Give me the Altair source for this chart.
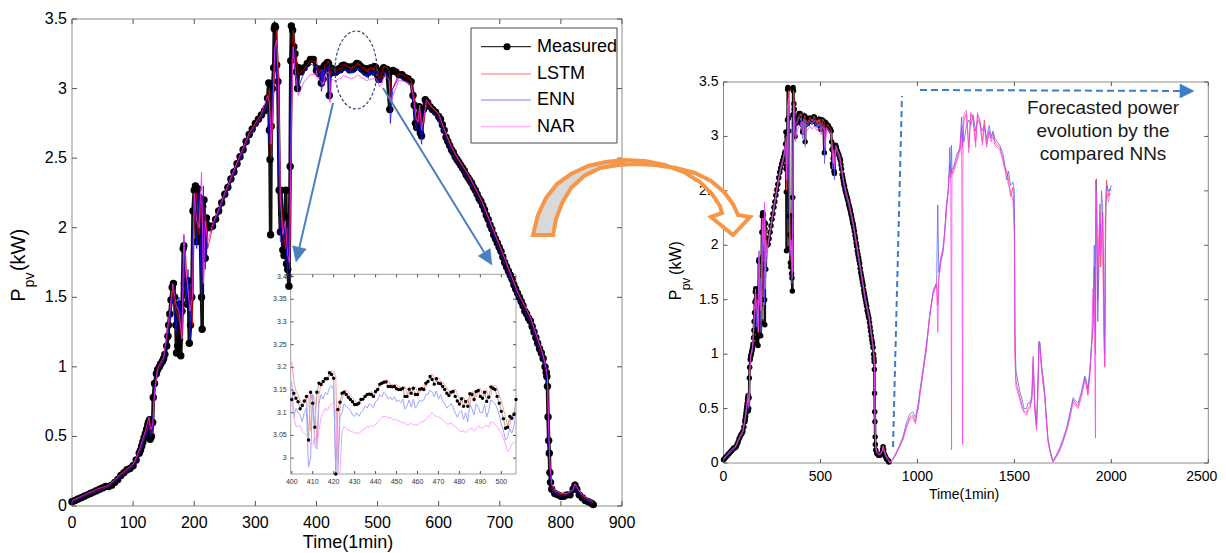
import math
import altair as alt
import pandas as pd

# ------------------------------------------------------------------ data
# Left panel: measured PV power (kW) vs time (min), part before the zoomed window
meas_t1 = [0,5,10,15,20,25,30,35,40,45,50,55,60,65,70,75,80,85,90,95,100,105,110,112,114,116,118,120,122,124,125,
           127,128,130,132,133,135,138,140,143,145,148,150,152,155,157,158,160,162,164,166,168,170,171,173,175,176,178,180,
           182,183,184,186,188,190,192,194,196,198,200,202,204,206,208,210,212,213,214,216,218,220,222,225,230,
           235,240,245,250,255,260,265,270,275,280,285,290,295,300,305,310,315,318,320,322,323,324,325,326,328,330,
           331,332,333,335,337,339,341,342,343,345,347,348,350,351,353,355,357,358,359,361,363,365,367,369,371,375,380,385,390,395]
meas_p1 = [0.03,0.04,0.05,0.06,0.07,0.08,0.09,0.10,0.11,0.12,0.13,0.14,0.14,0.15,0.17,0.19,0.22,0.24,0.26,0.27,0.29,
           0.33,0.38,0.40,0.43,0.46,0.49,0.52,0.55,0.58,0.60,
           0.62,0.48,0.50,0.60,0.78,0.88,0.95,0.98,1.00,1.02,1.04,1.06,1.09,1.15,1.22,1.30,1.38,1.48,1.57,1.60,1.50,1.30,1.10,1.15,1.45,1.20,1.08,1.40,
           1.85,1.87,1.60,1.52,1.45,1.62,1.17,1.30,1.50,2.12,2.27,
           2.30,1.90,2.28,2.22,1.95,1.50,1.27,2.15,2.20,1.78,2.07,2.02,2.00,2.01,
           2.06,2.12,2.18,2.24,2.29,2.35,2.40,2.46,2.51,2.56,2.62,2.67,2.71,2.75,2.78,2.81,2.84,2.86,2.93,3.04,2.70,2.49,1.95,2.73,3.00,3.15,
           3.43,3.45,3.44,3.17,3.05,2.27,1.97,2.27,2.10,1.84,1.80,2.08,2.27,1.74,1.70,1.58,2.44,3.20,3.45,3.42,3.30,3.25,3.12,3.00,3.15,3.12,3.15,3.18,3.21,3.21]

# zoomed window (minutes 400..507), one value per minute
zoom_t = list(range(400, 508))
zoom_meas = [3.129,3.143,3.132,3.124,3.109,3.116,3.126,3.136,3.040,3.145,
             3.121,3.068,3.145,3.165,3.162,3.169,3.175,3.175,3.188,3.184,
             3.176,2.950,3.107,3.123,3.143,3.145,3.140,3.134,3.129,3.124,
             3.118,3.118,3.121,3.129,3.130,3.136,3.140,3.141,3.140,3.136,
             3.147,3.151,3.163,3.165,3.167,3.168,3.158,3.158,3.157,3.158,
             3.153,3.151,3.151,3.154,3.136,3.136,3.152,3.143,3.154,3.140,
             3.140,3.152,3.153,3.151,3.165,3.169,3.180,3.173,3.163,3.175,
             3.165,3.164,3.158,3.151,3.143,3.138,3.145,3.147,3.136,3.126,
             3.119,3.131,3.114,3.125,3.114,3.142,3.140,3.129,3.147,3.149,
             3.136,3.132,3.145,3.125,3.134,3.157,3.154,3.151,3.136,3.121,
             3.103,3.087,3.066,3.068,3.092,3.088,3.096,3.129]
zoom_lstm = [3.213,3.170,3.148,3.140,3.128,3.115,3.120,3.130,3.140,3.060,
             3.140,3.130,3.030,3.140,3.165,3.165,3.172,3.178,3.180,3.192,
             3.190,3.180,2.985,3.110,3.128,3.148,3.150,3.145,3.138,3.133,
             3.128,3.122,3.122,3.125,3.133,3.135,3.140,3.145,3.146,3.145,
             3.140,3.150,3.156,3.167,3.170,3.172,3.172,3.163,3.162,3.161,
             3.162,3.158,3.156,3.155,3.158,3.142,3.140,3.155,3.148,3.158,
             3.145,3.144,3.156,3.158,3.156,3.168,3.173,3.185,3.178,3.168,
             3.178,3.170,3.168,3.162,3.155,3.148,3.143,3.150,3.152,3.142,
             3.132,3.124,3.135,3.120,3.130,3.120,3.146,3.145,3.134,3.150,
             3.154,3.142,3.137,3.150,3.130,3.138,3.160,3.160,3.156,3.140,
             3.126,3.108,3.090,3.070,3.072,3.095,3.092,3.100]
zoom_enn = [3.170,3.090,3.110,3.100,3.095,3.080,3.100,3.110,2.980,3.000,
            3.140,3.030,3.020,3.120,3.140,3.130,3.145,3.140,3.155,3.160,
            3.150,2.930,2.920,3.090,3.100,3.120,3.115,3.110,3.105,3.095,
            3.092,3.100,3.092,3.100,3.105,3.115,3.110,3.120,3.115,3.112,
            3.125,3.128,3.140,3.135,3.145,3.140,3.130,3.135,3.128,3.135,
            3.125,3.128,3.122,3.130,3.108,3.115,3.128,3.112,3.130,3.110,
            3.118,3.128,3.125,3.128,3.140,3.140,3.150,3.145,3.135,3.148,
            3.130,3.140,3.125,3.120,3.110,3.115,3.120,3.112,3.100,3.090,
            3.100,3.105,3.085,3.100,3.080,3.120,3.108,3.095,3.120,3.112,
            3.100,3.100,3.118,3.090,3.105,3.128,3.125,3.120,3.110,3.095,
            3.075,3.060,3.040,3.045,3.065,3.055,3.070,3.100]
zoom_nar = [3.130,3.090,3.070,3.070,3.072,3.060,3.055,3.050,3.045,3.030,
            3.030,3.050,3.030,3.060,3.090,3.100,3.110,3.105,3.115,3.120,
            3.120,3.100,2.900,2.950,3.060,3.070,3.065,3.062,3.060,3.058,
            3.055,3.056,3.054,3.058,3.062,3.065,3.070,3.068,3.072,3.070,
            3.075,3.078,3.085,3.090,3.092,3.092,3.088,3.090,3.085,3.084,
            3.085,3.082,3.080,3.078,3.078,3.072,3.075,3.076,3.072,3.074,
            3.072,3.078,3.080,3.082,3.085,3.090,3.095,3.100,3.095,3.092,
            3.090,3.088,3.085,3.080,3.075,3.075,3.078,3.072,3.070,3.066,
            3.060,3.058,3.060,3.056,3.060,3.064,3.066,3.060,3.066,3.070,
            3.068,3.065,3.070,3.072,3.068,3.080,3.078,3.075,3.070,3.062,
            3.055,3.045,3.030,3.015,3.020,3.030,3.035,3.035]

# measured, after the zoomed window
meas_t3 = [510,515,520,521,525,530,535,540,545,550,555,558,560,562,564,566,568,570,572,575,
           578,582,586,590,595,600,603,606,609,612,615,618,621,624,627,630,633,636,639,642,645,648,651,654,657,
           660,663,666,669,672,675,678,681,684,687,690,693,696,699,702,705,708,711,714,717,720,723,726,729,732,
           735,738,741,744,747,750,753,756,759,762,765,768,771,774,776,777,778,779,780,781,782,783,785,790,795,800,805,
           810,815,820,823,826,830,835,840,845,850,853]
meas_p3 = [3.15,3.14,2.85,3.12,3.13,3.12,3.10,3.10,3.08,3.07,3.05,2.95,2.88,2.75,2.72,2.80,2.87,2.68,2.66,2.85,
           2.92,2.90,2.87,2.85,2.83,2.80,2.78,2.74,2.70,2.65,2.62,2.59,2.56,2.54,2.51,2.49,2.47,2.45,2.43,2.41,2.38,2.36,2.34,2.32,2.29,
           2.27,2.24,2.21,2.19,2.16,2.13,2.09,2.06,2.02,1.99,1.95,1.92,1.89,1.86,1.83,1.79,1.75,1.72,1.69,1.66,1.63,1.59,1.56,1.53,1.50,
           1.47,1.44,1.40,1.38,1.35,1.33,1.29,1.25,1.21,1.17,1.13,1.10,1.06,1.00,0.96,0.93,0.86,0.64,0.47,0.38,0.24,0.17,0.12,0.09,0.08,0.07,0.07,
           0.08,0.08,0.12,0.15,0.12,0.08,0.06,0.04,0.03,0.02,0.01]

# network outputs outside the zoomed window (sampled)
fc_ta = [0,20,40,60,80,100,110,120,126,129,132,135,140,150,160,165,170,175,180,183,
         186,190,193,197,200,204,208,212,215,218,222,230,250,270,290,310,320,323,326,329,
         332,335,338,341,345,349,353,356,359,362,366,370,380,390,399]
lstm_a = [0.03,0.07,0.11,0.14,0.22,0.29,0.38,0.51,0.60,0.55,0.52,0.80,0.97,1.05,1.35,1.55,1.40,1.35,1.20,1.60,
          1.80,1.50,1.55,1.30,2.10,2.25,1.95,2.20,1.60,2.15,1.85,2.00,2.23,2.45,2.66,2.80,2.90,3.00,2.50,2.80,
          3.20,3.42,3.10,2.30,2.00,1.85,2.00,1.70,2.60,3.42,3.25,3.10,3.14,3.20,3.19]
enn_a = [0.03,0.07,0.10,0.14,0.21,0.28,0.37,0.50,0.58,0.50,0.56,0.85,0.96,1.04,1.33,1.50,1.25,1.50,1.30,1.95,
         1.45,1.70,1.20,1.85,2.20,1.85,2.25,1.45,2.30,1.70,2.00,2.00,2.22,2.44,2.65,2.79,2.90,2.60,2.75,3.05,
         3.30,3.10,2.50,1.90,1.90,2.00,1.65,2.10,3.20,3.30,3.12,3.00,3.12,3.18,3.15]
nar_a = [0.04,0.08,0.12,0.15,0.23,0.30,0.40,0.54,0.64,0.55,0.58,0.82,0.99,1.07,1.40,1.60,1.45,1.40,1.20,1.95,
         1.70,1.55,1.40,1.50,2.25,2.05,2.00,2.40,1.60,2.05,1.90,2.02,2.25,2.47,2.68,2.82,2.95,2.90,2.60,2.90,
         3.30,3.35,3.00,2.20,1.95,2.05,1.80,1.75,2.80,3.30,3.10,2.95,3.05,3.10,3.10]
fc_tc = [510,515,519,521,525,535,545,555,560,563,566,569,572,576,580,590,600,610,620,630,
         650,670,690,710,730,750,770,776,778,780,782,785,790,800,810,820,823,827,835,845,853]
lstm_c = [3.16,3.15,3.13,3.00,3.00,3.11,3.09,3.06,2.95,2.80,2.75,2.85,2.75,2.75,2.90,2.86,2.81,2.69,2.58,2.50,
          2.36,2.19,1.97,1.75,1.52,1.35,1.09,0.98,0.90,0.60,0.30,0.15,0.10,0.08,0.08,0.11,0.15,0.13,0.07,0.04,0.02]
enn_c = [3.12,3.10,3.08,2.75,3.00,3.08,3.05,3.02,2.85,2.70,2.78,2.80,2.60,2.82,2.88,2.83,2.78,2.66,2.55,2.47,
         2.33,2.16,1.94,1.72,1.49,1.32,1.06,0.95,0.84,0.50,0.25,0.12,0.09,0.07,0.08,0.11,0.14,0.11,0.06,0.03,0.01]
nar_c = [3.09,3.08,3.06,2.90,2.95,3.06,3.05,3.03,2.90,2.78,2.76,2.88,2.70,2.80,2.92,2.86,2.82,2.70,2.59,2.51,
         2.37,2.20,1.98,1.76,1.53,1.36,1.10,0.99,0.92,0.55,0.30,0.16,0.11,0.09,0.09,0.12,0.16,0.13,0.08,0.05,0.03]

# right panel: forecast horizon (minutes 858..2000)
fut_t = [858,880,900,925,945,961,975,990,996,1005,1013,1030,1047,1064,1081,1099,1105,1110,1120,1132,
         1140,1150,1160,1167,1172,1176,1178,1184,1195,1205,1215,1219,1228,1233,1235,1240,1253,1265,1275,1287,
         1300,1310,1322,1335,1345,1357,1370,1380,1390,1400,1412,1425,1440,1450,1460,1470,1480,1493,1500,1503,
         1508,1515,1528,1540,1550,1563,1570,1580,1590,1597,1605,1614,1620,1627,1633,1640,1648,1657,1665,1673,
         1685,1699,1715,1734,1750,1769,1785,1803,1815,1828,1845,1863,1872,1879,1890,1898,1905,1912,1918,1920,
         1923,1930,1941,1945,1949,1955,1960,1966,1970,1975,1985,1992,2000]
fut_lstm = [0.0,0.05,0.12,0.22,0.34,0.42,0.44,0.38,0.45,0.52,0.64,0.85,1.07,1.37,1.56,1.65,1.45,1.7,1.85,1.95,
            2.1,2.35,2.55,2.75,2.62,2.7,2.66,2.69,2.75,2.8,2.88,2.87,3.1,2.9,3.0,3.15,3.21,2.9,3.2,3.18,
            2.95,3.2,3.15,2.95,3.15,2.93,3.05,2.98,3.03,2.95,2.92,2.9,2.8,2.72,2.69,2.6,2.45,2.53,2.2,1.04,
            0.76,0.7,0.61,0.52,0.48,0.46,0.5,0.52,0.6,0.98,0.5,0.33,0.6,1.11,1.05,0.88,0.75,0.61,0.4,0.21,
            0.1,0.01,0.06,0.12,0.2,0.3,0.42,0.58,0.55,0.52,0.62,0.79,0.72,0.64,0.85,1.07,1.2,1.8,1.0,2.2,
            2.61,1.5,2.38,1.8,2.05,2.3,1.5,0.88,2.0,2.6,2.45,2.52,2.5]
fut_enn = [0.0,0.06,0.13,0.24,0.38,0.45,0.47,0.42,0.47,0.55,0.67,0.88,1.1,1.35,1.58,1.66,2.37,1.75,1.88,1.97,
           2.12,2.38,2.5,2.9,2.66,2.92,2.7,2.7,2.78,2.85,2.86,2.9,3.18,2.95,3.05,2.95,3.1,3.15,3.1,3.2,
           3.05,3.15,3.12,3.05,3.1,2.98,3.1,3.0,3.05,2.98,2.95,2.92,2.85,2.75,2.6,2.68,2.55,2.58,2.5,1.2,
           0.85,0.78,0.66,0.58,0.5,0.5,0.55,0.55,0.62,0.9,0.55,0.36,0.65,1.12,1.1,0.9,0.8,0.64,0.42,0.23,
           0.11,0.02,0.07,0.14,0.22,0.32,0.45,0.6,0.57,0.55,0.65,0.8,0.75,0.68,0.88,1.1,1.25,2.0,1.2,2.6,
           2.45,1.3,2.2,2.1,2.5,2.35,1.8,1.0,2.3,2.55,2.5,2.5,2.55]
fut_nar = [0.0,0.05,0.12,0.21,0.33,0.4,0.42,0.36,0.44,0.5,0.62,0.84,1.05,1.38,1.55,1.64,1.2,1.68,1.83,1.94,
           2.08,2.33,2.52,2.7,2.6,0.12,2.68,2.66,2.72,2.78,2.84,2.85,3.05,0.17,3.1,3.2,3.24,2.85,3.22,3.15,
           2.9,3.22,3.12,2.92,3.1,2.9,3.05,2.95,3.0,2.92,2.9,2.88,2.78,2.7,2.65,2.55,2.5,2.4,2.1,1.0,
           0.7,0.66,0.58,0.5,0.46,0.44,0.48,0.5,0.58,0.95,0.48,0.3,0.55,1.08,1.03,0.86,0.72,0.6,0.38,0.2,
           0.09,0.01,0.05,0.11,0.19,0.29,0.4,0.56,0.53,0.5,0.6,0.76,0.7,0.62,0.82,1.05,1.6,1.5,0.23,2.0,
           2.5,1.8,2.3,1.9,2.0,2.25,1.2,0.9,2.4,2.5,2.4,2.48,2.47]

series_names = ["Measured", "LSTM", "ENN", "NAR"]
left_xticks = [0, 100, 200, 300, 400, 500, 600, 700, 800, 900]
left_yticks = [0, 0.5, 1, 1.5, 2, 2.5, 3, 3.5]
zoom_xticks = [400, 410, 420, 430, 440, 450, 460, 470, 480, 490, 500]
zoom_yticks = [3, 3.05, 3.1, 3.15, 3.2, 3.25, 3.3, 3.35, 3.4]
right_xticks = [0, 500, 1000, 1500, 2000, 2500]
right_yticks = [0, 0.5, 1, 1.5, 2, 2.5, 3, 3.5]
note_lines = ["Forecasted power", "evolution by the", "compared NNs"]

# ------------------------------------------------------------------ tables
meas = pd.DataFrame({"t": meas_t1 + zoom_t + meas_t3, "p": meas_p1 + zoom_meas + meas_p3})
fore = pd.DataFrame({"t": fc_ta + zoom_t + fc_tc,
                     "LSTM": lstm_a + zoom_lstm + lstm_c,
                     "ENN": enn_a + zoom_enn + enn_c,
                     "NAR": nar_a + zoom_nar + nar_c})
fut = pd.DataFrame({"t": fut_t, "LSTM": fut_lstm, "ENN": fut_enn, "NAR": fut_nar})
fore_all = pd.concat([fore, fut], ignore_index=True)
zoom = pd.DataFrame({"t": zoom_t, "p": zoom_meas, "LSTM": zoom_lstm, "ENN": zoom_enn, "NAR": zoom_nar})
ONE = pd.DataFrame({"a": [0]})

# ------------------------------------------------------------------ layout (view pixels)
W, H = 1210, 545
FONT = "Liberation Sans"
LX, LY = [64, 614], [498, 11]
IX, IY = [282.7, 508], [466, 266.3]
RX, RY = [715.5, 1200.3], [455, 74]


def sc(domain, rng, clamp=False):
    return alt.Scale(domain=domain, range=rng, nice=False, zero=False, clamp=clamp)


xs_l, ys_l = sc([0, 900], LX), sc([0, 3.5], LY)
xs_i, ys_i = sc([399.5, 507], IX, True), sc([2.965, 3.405], IY, True)
xs_r, ys_r = sc([0, 2500], RX), sc([0, 3.5], RY)


def lines(df, col, xs, ys, color, width=1.0, opacity=1.0):
    return alt.Chart(df).mark_line(color=color, strokeWidth=width, opacity=opacity).encode(
        x=alt.X("t:Q", scale=xs, axis=None), y=alt.Y(f"{col}:Q", scale=ys, axis=None))


def dots(df, col, xs, ys, size):
    return alt.Chart(df).mark_circle(color="#000", size=size, opacity=1).encode(
        x=alt.X("t:Q", scale=xs, axis=None), y=alt.Y(f"{col}:Q", scale=ys, axis=None))


def frame(xs, ys, xr, yr, xt, yt, tl, color, fs, xlab_dy, ylab_dx, lab_color="#000", fill=None,
          last_right=False):
    rect = alt.Chart(ONE).mark_rect(fill=fill or "#ffffff", fillOpacity=1 if fill else 0,
                                    stroke=color, strokeWidth=1).encode(
        x=alt.value(xr[0]), x2=alt.value(xr[1]), y=alt.value(yr[1]), y2=alt.value(yr[0]))
    dx = pd.DataFrame({"v": xt})
    dy = pd.DataFrame({"v": yt})
    tc = "#555555"
    out = [rect]
    for y0, y1 in [(yr[0], yr[0] - tl), (yr[1], yr[1] + tl)]:
        out.append(alt.Chart(dx).mark_rule(color=tc, strokeWidth=1).encode(
            x=alt.X("v:Q", scale=xs, axis=None), y=alt.value(y0), y2=alt.value(y1)))
    for x0, x1 in [(xr[0], xr[0] + tl), (xr[1], xr[1] - tl)]:
        out.append(alt.Chart(dy).mark_rule(color=tc, strokeWidth=1).encode(
            y=alt.Y("v:Q", scale=ys, axis=None), x=alt.value(x0), x2=alt.value(x1)))
    # tick labels
    dx_c = dx.iloc[:-1] if last_right else dx
    out.append(alt.Chart(dx_c).mark_text(font=FONT, fontSize=fs, color=lab_color, align="center",
                                         baseline="middle").encode(
        x=alt.X("v:Q", scale=xs, axis=None), y=alt.value(yr[0] + xlab_dy),
        text=alt.Text("v:Q", format="~g")))
    if last_right:
        out.append(alt.Chart(dx.iloc[-1:]).mark_text(font=FONT, fontSize=fs, color=lab_color,
                                                     align="right", baseline="middle", dx=9).encode(
            x=alt.X("v:Q", scale=xs, axis=None), y=alt.value(yr[0] + xlab_dy),
            text=alt.Text("v:Q", format="~g")))
    out.append(alt.Chart(dy).mark_text(font=FONT, fontSize=fs, color=lab_color, align="right",
                                       baseline="middle").encode(
        y=alt.Y("v:Q", scale=ys, axis=None), x=alt.value(xr[0] - ylab_dx),
        text=alt.Text("v:Q", format="~g")))
    return out


# ---------------- inset (zoomed window)
inset_frame = frame(xs_i, ys_i, IX, IY, zoom_xticks, zoom_yticks, 3, "#a0a0a0", 7, 8, 4,
                    "#333333", fill="#ffffff")
inset = alt.layer(
    inset_frame[0],
    lines(zoom, "p", xs_i, ys_i, "#a6a6a6", 1),
    lines(zoom, "LSTM", xs_i, ys_i, "#ff9d9d", 1),
    lines(zoom, "ENN", xs_i, ys_i, "#a3a3ff", 1),
    lines(zoom, "NAR", xs_i, ys_i, "#ffa3ff", 1),
    dots(zoom, "p", xs_i, ys_i, 12),
    *inset_frame[1:],
)

# ---------------- left main panel
left_frame = frame(xs_l, ys_l, LX, LY, left_xticks, left_yticks, 5, "#8c8c8c", 16, 17, 5)
left = alt.layer(
    left_frame[0],
    lines(meas, "p", xs_l, ys_l, "#111111", 3.5),
    dots(meas, "p", xs_l, ys_l, 55),
    lines(fore, "LSTM", xs_l, ys_l, "#e00000", 1, 0.8),
    lines(fore, "ENN", xs_l, ys_l, "#1010ff", 1, 0.8),
    lines(fore, "NAR", xs_l, ys_l, "#ff30ff", 1, 0.8),
    *left_frame[1:],
)

# ---------------- right panel
right_frame = frame(xs_r, ys_r, RX, RY, right_xticks, right_yticks, 4, "#8c8c8c", 14, 14, 5,
                    last_right=True)
right = alt.layer(
    right_frame[0],
    lines(meas, "p", xs_r, ys_r, "#111111", 2.5),
    dots(meas, "p", xs_r, ys_r, 30),
    lines(fore_all, "LSTM", xs_r, ys_r, "#ff3b3b", 1, 0.75),
    lines(fore_all, "ENN", xs_r, ys_r, "#5a5aff", 1, 0.75),
    lines(fore_all, "NAR", xs_r, ys_r, "#ff40f0", 1, 0.75),
    *right_frame[1:],
)

# ------------------------------------------------------------------ annotations
def text(s, x, y, size, angle=0, align="center", color="#000"):
    kw = dict(font=FONT, fontSize=size, color=color, align=align, baseline="middle")
    if angle:
        kw["angle"] = angle
    return alt.Chart(ONE).mark_text(**kw).encode(x=alt.value(x), y=alt.value(y), text=alt.value(s))


def path_shape(d, fill, stroke, sw, dash=None, filled=True):
    kw = dict(shape=d, size=4, filled=filled, opacity=1, stroke=stroke, strokeWidth=sw)
    if filled:
        kw["fill"] = fill
    if dash:
        kw["strokeDash"] = dash
    return alt.Chart(ONE).mark_point(**kw).encode(x=alt.value(0), y=alt.value(0))


def poly(pts):
    return "M" + "L".join(f"{x},{y}" for x, y in pts) + "Z"


def arrow(x0, y0, x1, y1, color, width=2, head=13, half=6, dash=None):
    L = math.hypot(x1 - x0, y1 - y0)
    ux, uy = (x1 - x0) / L, (y1 - y0) / L
    bx, by = x1 - ux * head, y1 - uy * head
    kw = dict(color=color, strokeWidth=width)
    if dash:
        kw["strokeDash"] = dash
    shaft = alt.Chart(ONE).mark_rule(**kw).encode(
        x=alt.value(x0), y=alt.value(y0), x2=alt.value(bx), y2=alt.value(by))
    px, py = -uy, ux
    tri = poly([(x1, y1), (bx + px * half, by + py * half), (bx - px * half, by - py * half)])
    return [shaft, path_shape(tri, color, color, 0.5)]


ann = []
# axis titles
ann.append(text("Time(1min)", 340, 535, 18))
ann.append(text("Time(1min)", 956, 487, 14))
ann += [text("P", 11, 287, 20, 270), text("pv", 22, 272, 14, 270), text("(kW)", 11, 242, 20, 270)]
ann += [text("P", 668, 287, 16, 270), text("pv", 678, 276, 12, 270), text("(kW)", 668, 250, 16, 270)]

# legend
leg_y = [38.7, 66, 92, 118.7]
leg_c = ["#000000", "#ff7070", "#7f7fff", "#ff9cff"]
leg = pd.DataFrame({"label": series_names, "ly": leg_y, "col": leg_c})
ann.append(alt.Chart(ONE).mark_rect(fill="#ffffff", stroke="#444444", strokeWidth=1).encode(
    x=alt.value(463), x2=alt.value(609), y=alt.value(20), y2=alt.value(135)))
ann.append(alt.Chart(leg).mark_rule(strokeWidth=1).encode(
    x=alt.value(473), x2=alt.value(523), y=alt.Y("ly:Q", scale=None),
    color=alt.Color("col:N", scale=None)))
ann.append(alt.Chart(leg.iloc[:1]).mark_circle(color="#000", size=50, opacity=1).encode(
    x=alt.value(499), y=alt.Y("ly:Q", scale=None)))
ann.append(alt.Chart(leg).mark_text(font=FONT, fontSize=18, align="left", baseline="middle",
                                    color="#000").encode(
    x=alt.value(529), y=alt.Y("ly:Q", scale=None), text="label:N"))

# dashed ellipse and zoom arrows
ann.append(path_shape("M-21,0A21,39,0,1,0,21,0A21,39,0,1,0,-21,0Z", None, "#2f4a78", 1.2,
                      dash=[3, 2], filled=False).encode(x=alt.value(348), y=alt.value(62)))
ann += arrow(325, 95, 288, 254, "#4a7fc0", 2, 15, 7)
ann += arrow(375, 80, 484, 257, "#4a7fc0", 2, 15, 7)

# orange curved arrow
white_part = [(598, 154), (617, 152), (637, 153), (657, 157), (676, 164), (692, 174), (704, 186),
              (712, 198), (714, 205), (703, 209), (725, 227), (742, 209), (730, 207), (725, 196),
              (716, 184), (703, 173), (687, 165), (668, 160), (647, 157), (627, 156), (610, 157)]
gray_part = [(525, 227), (530, 207), (538, 190), (549, 176), (563, 166), (580, 158), (598, 154),
             (617, 153), (610, 157), (592, 160), (576, 168), (563, 180), (554, 195), (548, 211), (545, 227)]
ann.append(path_shape(poly(white_part), "#ffffff", "#f79646", 4))
ann.append(path_shape(poly(gray_part), "#d9d9d9", "#f79646", 4))

# forecast horizon markers
ann += arrow(885, 439, 894, 87, "#3d7cc9", 2, 1, 1, dash=[6, 4])[:1]
ann += arrow(912, 82, 1186, 83, "#3d7cc9", 2, 14, 7, dash=[7, 4])
for i, s in enumerate(note_lines):
    ann.append(text(s, 1095, 100 + i * 23, 19, color="#1a1a1a"))

chart = alt.layer(inset, left, right, *ann).resolve_scale(
    x="independent", y="independent"
).properties(
    width=W, height=H, padding=0, autosize=alt.AutoSizeParams(type="none")
).configure_view(stroke=None)

chart.save("out.html", embed_options={"renderer": "svg", "actions": False})
